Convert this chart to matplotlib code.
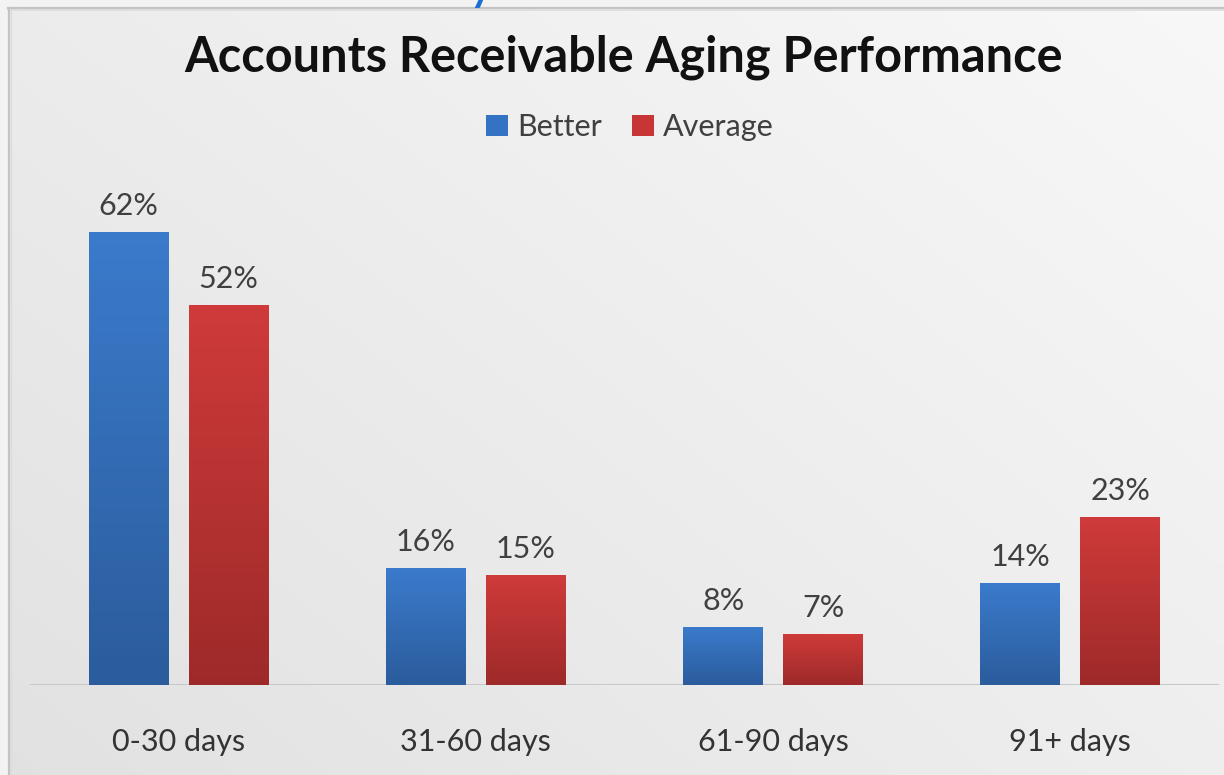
import numpy as np
import matplotlib
matplotlib.use("Agg")
import matplotlib.pyplot as plt
from matplotlib.lines import Line2D
from matplotlib.patches import Patch

# ---- data ----
categories = ["0-30 days", "31-60 days", "61-90 days", "91+ days"]
series_names = ["Better", "Average"]
better = [62, 16, 8, 14]
average = [52, 15, 7, 23]
title = "Accounts Receivable Aging Performance"

W, H = 1224, 775
DPI = 100
plt.rcParams['font.family'] = ['Lato', 'DejaVu Sans']

fig = plt.figure(figsize=(W / DPI, H / DPI), dpi=DPI)
fig.patch.set_facecolor('#f3f3f3')

def px(x, y):
    """pixel (from top-left) -> figure fraction"""
    return x / W, 1 - y / H

# ---- panel background gradient ----
bg_ax = fig.add_axes([8 / W, 0, 1 - 8 / W, 1 - 8 / H], zorder=0)
bg_ax.set_axis_off()
gx = np.linspace(0, 1, 200)
gy = np.linspace(0, 1, 200)
GX, GY = np.meshgrid(gx, gy)  # GY=0 at top
tl, tr, bl, br = 0.925, 0.972, 0.885, 0.935
val = (tl * (1 - GX) * (1 - GY) + tr * GX * (1 - GY) + bl * (1 - GX) * GY + br * GX * GY)
bg_ax.imshow(np.dstack([val, val, val]), aspect='auto', extent=[0, 1, 1, 0],
             interpolation='bilinear')
bg_ax.set_xlim(0, 1)
bg_ax.set_ylim(1, 0)

# border lines (frame of the chart panel)
fig.add_artist(Line2D([8 / W, 1], [1 - 7.5 / H, 1 - 7.5 / H], transform=fig.transFigure,
                      color='#c4c4c4', lw=1.6, zorder=2))
fig.add_artist(Line2D([8 / W, 1], [1 - 9.5 / H, 1 - 9.5 / H], transform=fig.transFigure,
                      color='#dcdcdc', lw=1.2, zorder=2))
fig.add_artist(Line2D([8.5 / W, 8.5 / W], [0, 1 - 7.5 / H], transform=fig.transFigure,
                      color='#c4c4c4', lw=1.6, zorder=2))
fig.add_artist(Line2D([10.5 / W, 10.5 / W], [0, 1 - 9.5 / H], transform=fig.transFigure,
                      color='#dcdcdc', lw=1.0, zorder=2))

# cut-off blue text fragment at the very top (as in the source screenshot)
fig.text(470 / W, 1 - 1 / H, "y", color='#1d6fd6', fontsize=30, fontweight='bold',
         ha='left', va='baseline', zorder=3, clip_on=False)

# ---- main axes ----
ax_left, ax_right, ax_bottom, ax_top = 30, 1219, 685, 173
ax = fig.add_axes([ax_left / W, 1 - ax_bottom / H, (ax_right - ax_left) / W,
                   (ax_bottom - ax_top) / H], zorder=5)
ax.patch.set_alpha(0)
ymax = (ax_bottom - ax_top) / 7.31
ax.set_xlim(-0.5, len(categories) - 0.5)
ax.set_ylim(0, ymax)

x = np.arange(len(categories))
bw = 80 / 297.3
off = 50 / 297.3

grads = {
    "Better": ((0.231, 0.482, 0.800), (0.169, 0.361, 0.612)),
    "Average": ((0.812, 0.231, 0.227), (0.616, 0.165, 0.161)),
}

bars_b = ax.bar(x - off, better, bw, color='#3a7bcc', zorder=3, label=series_names[0])
bars_a = ax.bar(x + off, average, bw, color='#cf3b3a', zorder=3, label=series_names[1])

def gradient_fill(bars, name):
    top, bot = grads[name]
    t = np.linspace(0, 1, 256)
    img = np.zeros((256, 1, 3))
    for i in range(3):
        img[:, 0, i] = top[i] * (1 - t) + bot[i] * t
    for b in bars:
        x0, y0 = b.get_x(), b.get_y()
        w, h = b.get_width(), b.get_height()
        im = ax.imshow(img, extent=[x0, x0 + w, y0, y0 + h], origin='upper',
                       aspect='auto', zorder=3.5, interpolation='bilinear')
        im.set_clip_path(b)

gradient_fill(bars_b, "Better")
gradient_fill(bars_a, "Average")
ax.set_xlim(-0.5, len(categories) - 0.5)
ax.set_ylim(0, ymax)

label_size = 22
for bars, vals in ((bars_b, better), (bars_a, average)):
    for b, v in zip(bars, vals):
        ax.annotate(f"{v}%", (b.get_x() + b.get_width() / 2, v), xytext=(0, 12.2),
                    textcoords='offset points', ha='center', va='baseline',
                    fontsize=label_size, color='#404040', zorder=6)

for s in ax.spines.values():
    s.set_visible(False)
ax.axhline(0, color='#c8c8c8', lw=1.5, zorder=2)
ax.set_yticks([])
ax.set_xticks(x)
ax.set_xticklabels(categories, fontsize=label_size, color='#333333')
ax.tick_params(axis='x', length=0, pad=31)

# legend
handles = [Patch(facecolor='#3472c3'), Patch(facecolor='#c73534')]
fig.legend(handles, series_names, loc='center', bbox_to_anchor=px(630, 127),
           ncol=2, frameon=False, fontsize=label_size, handlelength=0.7,
           handleheight=0.7, handletextpad=0.3, columnspacing=1.0,
           labelcolor='#404040')

# title
fig.text(*px(624, 72), title, ha='center', va='baseline', fontsize=35,
         fontweight='bold', color='#111111', zorder=6)

fig.savefig("out.png", dpi=DPI, facecolor=fig.get_facecolor())
